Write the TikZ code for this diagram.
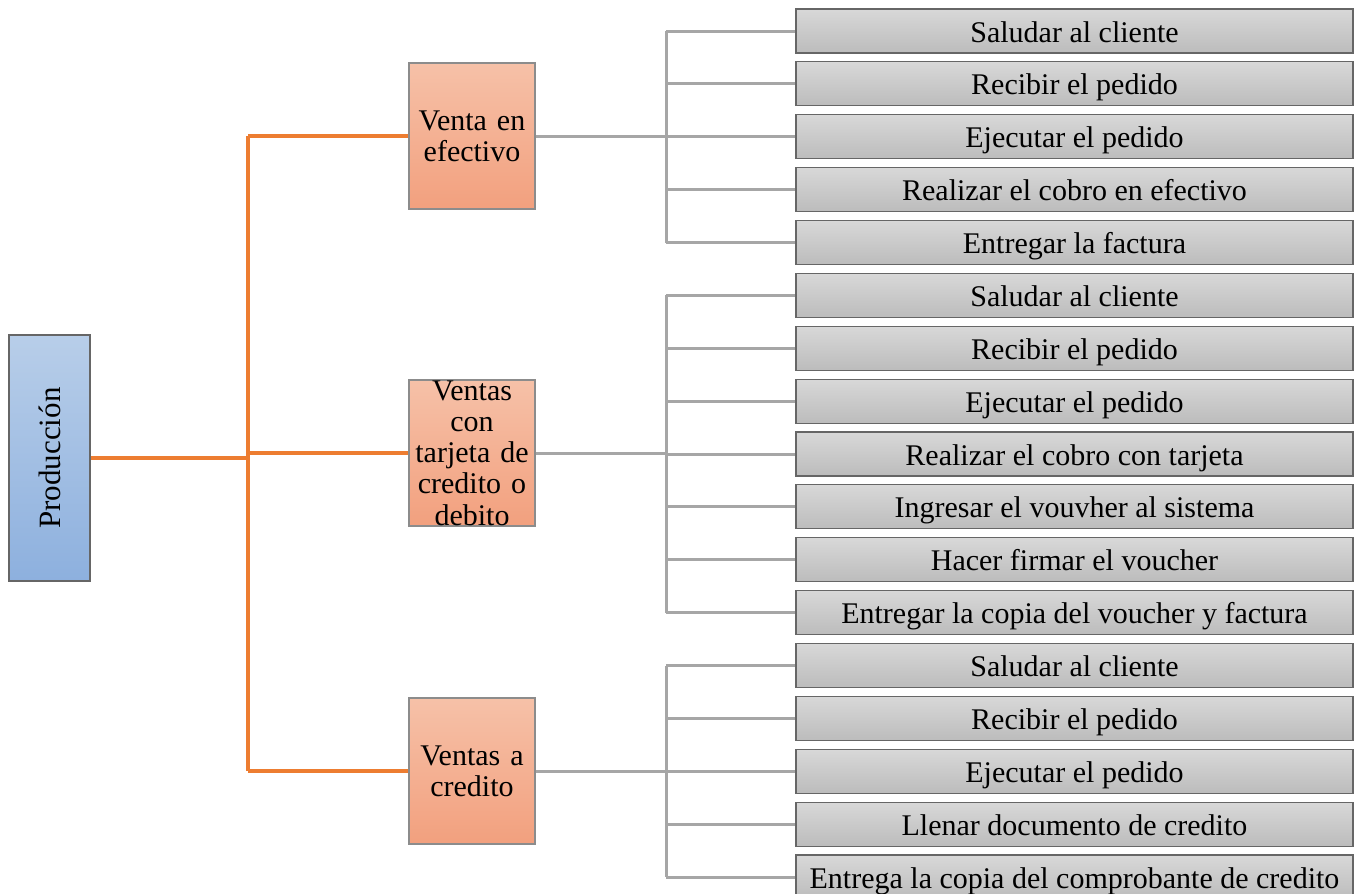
\documentclass[tikz,border=0pt]{standalone}
\usepackage{fontspec}
\setmainfont{Liberation Serif}
\usepackage{graphicx}
\usepackage{xcolor}
\usepackage{tikz}
\usetikzlibrary{calc,positioning}
\definecolor{prodtop}{HTML}{B8CEE9}
\definecolor{prodbot}{HTML}{8DB0DE}
\definecolor{saletop}{HTML}{F6C1A8}
\definecolor{salebot}{HTML}{F2A07E}
\definecolor{steptop}{HTML}{D8D8D8}
\definecolor{stepbot}{HTML}{BCBCBC}
\definecolor{orangeln}{HTML}{ED7D31}
\definecolor{grayln}{HTML}{A6A6A6}
\tikzset{
  rootbox/.style={draw=black!60, line width=0.6pt, top color=prodtop, bottom color=prodbot, minimum width=40.5pt, minimum height=123pt, inner sep=0pt, font=\fontsize{15.5}{15.5}\selectfont},
  salebox/.style={draw=black!45, line width=0.6pt, top color=saletop, bottom color=salebot, minimum width=63pt, minimum height=73pt, text width=63pt, align=center, inner sep=0pt, font=\fontsize{15}{15.6}\selectfont},
  stepbox/.style={draw=black!60, line width=0.6pt, top color=steptop, bottom color=stepbot, minimum width=278.5pt, minimum height=22pt, text height=13pt, text depth=2pt, inner sep=0pt, font=\fontsize{15}{15}\selectfont},
  orangeline/.style={draw=orangeln, line width=1.6pt},
  grayline/.style={draw=grayln, line width=1.5pt}
}

\begin{document}
\begin{tikzpicture}[x=0.5pt, y=-0.5pt]
  \useasboundingbox (0,0) rectangle (1356,894);
  \clip (0,0) rectangle (1356,894);

  % root and sale types
  \node[rootbox] (prod) at (49.5,458) {\rotatebox{90}{Producción}};
  \node[salebox] (efec) at (472,136) {Venta en\\ efectivo};
  \node[salebox] (tarj) at (472,453) {Ventas\\ con\\ tarjeta de\\ credito o\\ debito};
  \node[salebox] (cred) at (472,771) {Ventas a\\ credito};

  \coordinate (hub) at (248,458);
  \coordinate (sp) at (666,0);

  % steps
  \foreach \t [count=\i] in {Saludar al cliente, Recibir el pedido, Ejecutar el pedido,
      Realizar el cobro en efectivo, Entregar la factura}
    \node[stepbox] (ef-\i) at (1074.5,{31+(\i-1)*52.875}) {\t};
  \foreach \t [count=\i] in {Saludar al cliente, Recibir el pedido, Ejecutar el pedido,
      Realizar el cobro con tarjeta, Ingresar el vouvher al sistema, Hacer firmar el voucher,
      Entregar la copia del voucher y factura}
    \node[stepbox] (tc-\i) at (1074.5,{31+(\i+4)*52.875}) {\t};
  \foreach \t [count=\i] in {Saludar al cliente, Recibir el pedido, Ejecutar el pedido,
      Llenar documento de credito, Entrega la copia del comprobante de credito}
    \node[stepbox] (cr-\i) at (1074.5,{31+(\i+11)*52.875}) {\t};

  % orange connectors
  \draw[orangeline] (prod.east) -- (hub);
  \draw[orangeline] (hub |- efec.west) -- (hub |- cred.west);
  \foreach \v in {efec,tarj,cred}
    \draw[orangeline] (hub |- \v.west) -- (\v.west);

  % gray connectors
  \foreach \v/\g/\n in {efec/ef/5, tarj/tc/7, cred/cr/5} {
    \draw[grayline] (\v.east) -- (\v.east -| sp);
    \draw[grayline] (\g-1.west -| sp) -- (\g-\n.west -| sp);
    \foreach \i in {1,...,\n}
      \draw[grayline] (\g-\i.west -| sp) -- (\g-\i.west);
  }
\end{tikzpicture}
\end{document}
